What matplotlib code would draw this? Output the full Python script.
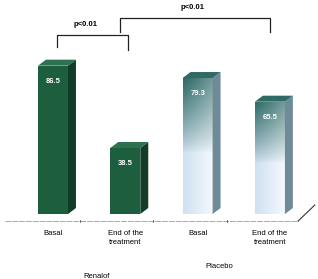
import numpy as np
import matplotlib.pyplot as plt
from matplotlib.patches import Polygon, Rectangle
from matplotlib.colors import to_rgb

plt.rcParams['font.family'] = ['Liberation Sans', 'DejaVu Sans']

categories = ['Basal', 'End of the\ntreatment', 'Basal', 'End of the\ntreatment']
values = [86.5, 38.5, 79.3, 65.5]
groups = ['Renalof', 'Renalof', 'Placebo', 'Placebo']
group_names = ['Renalof', 'Placebo']
pvals = ['p<0.01', 'p<0.01']

fig = plt.figure(figsize=(3.18, 2.79), dpi=100)
ax = fig.add_axes([0, 0, 1, 1])
ax.set_xlim(-0.733, 3.665)
ax.set_ylim(-37.9, 124.8)
ax.axis('off')

w = 0.415
dx, dy = 0.11, 3.5

# floor line
ax.plot([-0.66, 3.39], [-4.1, -4.1], color='#a8a8a8', lw=0.7, ls=(0, (6, 1)))
ax.plot([3.39, 3.62], [-4.1, 5.2], color='#333333', lw=0.8)
for xt in [0.37, 1.38, 2.41]:
    ax.plot([xt, xt], [-4.6, -3.6], color='#555555', lw=0.6)

# placebo front gradient: dark teal at top fading to pale blue, lighter to the right
dark = np.array(to_rgb('#2f6a66'))
pale = np.array(to_rgb('#cfe1f1'))
white = np.array(to_rgb('#f6f9fd'))
ny, nx = 100, 40
ty = np.linspace(1, 0, ny)[:, None]          # 1 at top, 0 at bottom
tx = np.linspace(0, 1, nx)[None, :]
k = np.clip((ty - 0.45) / 0.55, 0, 1) ** 0.8   # darkness from top
k = k * (1 - 0.35 * tx)
base = pale[None, None, :] * (1 - tx[..., None]) + white[None, None, :] * tx[..., None]
img = base * (1 - k[..., None]) + dark[None, None, :] * k[..., None]

for i, (v, g) in enumerate(zip(values, groups)):
    x0 = i - w / 2
    x1 = i + w / 2
    if g == 'Renalof':
        side, top = '#123c27', '#2c7150'
        ax.add_patch(Rectangle((x0, 0), w, v, facecolor='#1d5e3e', edgecolor='none', zorder=3))
    else:
        side, top = '#6f8a99', '#2f6a63'
        rect = Rectangle((x0, 0), w, v, facecolor='none', edgecolor='none', zorder=3)
        ax.add_patch(rect)
        im = ax.imshow(img, extent=[x0, x1, 0, v], aspect='auto', zorder=3, interpolation='bilinear')
        im.set_clip_path(rect)
    ax.add_patch(Polygon([(x1, 0), (x1 + dx, dy), (x1 + dx, v + dy), (x1, v)],
                         closed=True, facecolor=side, edgecolor='none', zorder=3))
    ax.add_patch(Polygon([(x0, v), (x0 + dx, v + dy), (x1 + dx, v + dy), (x1, v)],
                         closed=True, facecolor=top, edgecolor='none', zorder=3))
    ax.text(i, v - 9, f'{v:.1f}', color='white', fontsize=5.5, fontweight='bold',
            ha='center', va='center', zorder=4)
    ax.text(i, -9.5, categories[i], fontsize=5.5, ha='center', va='top', linespacing=1.3)

# group labels
ax.text(0.6, -36.2, group_names[0], fontsize=5.5, ha='center', va='center')
ax.text(2.3, -30.5, group_names[1], fontsize=5.5, ha='center', va='center')

# significance brackets
ax.plot([0.05, 0.05, 1.04, 1.04], [97.5, 104.5, 104.5, 95.5], color='#222222', lw=0.9)
ax.text(0.45, 110.5, pvals[0], fontsize=5.5, fontweight='bold', ha='center', va='center')
ax.plot([0.93, 0.93, 3.0, 3.0], [106, 114.5, 114.5, 106], color='#222222', lw=0.9)
ax.text(1.93, 120.2, pvals[1], fontsize=5.5, fontweight='bold', ha='center', va='center')

fig.savefig('out.png', dpi=100)
